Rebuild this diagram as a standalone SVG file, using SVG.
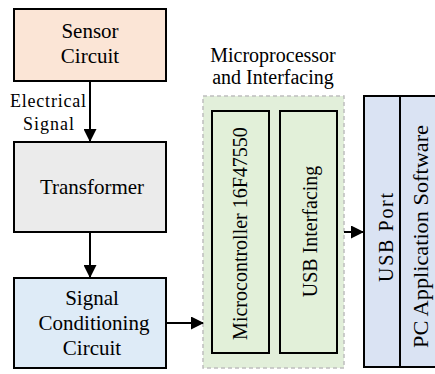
<svg xmlns="http://www.w3.org/2000/svg" width="435" height="374" viewBox="0 0 435 374" font-family="Liberation Serif, Tinos, DejaVu Serif, serif">
<style>
text{font-family:'Liberation Serif','Tinos','DejaVu Serif',serif;fill:#000;}
.lbl{font-size:21px;text-anchor:middle;}
.rot{font-size:20px;text-anchor:middle;}
.sm{font-size:18px;}
.box{stroke:#000;stroke-width:2;}
.conn{stroke:#000;stroke-width:2;fill:none;}
</style>
<defs>
<marker id="ah" markerWidth="13" markerHeight="13" refX="12" refY="6.5" orient="auto" markerUnits="userSpaceOnUse">
<path d="M0,0 L13,6.5 L0,13 Z" fill="#000"/>
</marker>
</defs>
<rect width="435" height="374" fill="#fff"/>
<g id="sensor">
<rect class="box" x="14" y="9" width="152" height="72" fill="#FBE5D6"/>
<text class="lbl" x="90" y="38">Sensor</text>
<text class="lbl" x="90" y="63">Circuit</text>
</g>
<g id="transformer">
<rect class="box" x="14" y="142" width="152" height="90" fill="#EBEBEB"/>
<text class="lbl" x="92" y="194">Transformer</text>
</g>
<g id="conditioning">
<rect class="box" x="14" y="278" width="152" height="90" fill="#DEEBF7"/>
<text class="lbl" x="92" y="305">Signal</text>
<text class="lbl" x="94" y="330">Conditioning</text>
<text class="lbl" x="92" y="355">Circuit</text>
</g>
<g id="micro-group">
<rect x="203" y="96" width="141" height="272" fill="#E2EFDA" stroke="#BFBFBF" stroke-width="1.5" stroke-dasharray="4,3"/>
<text class="rot" x="273" y="62">Microprocessor</text>
<text class="rot" x="273" y="84">and Interfacing</text>
</g>
<g id="microcontroller">
<rect class="box" x="212" y="111" width="57" height="242" fill="#E2F0D9"/>
<text class="rot" transform="translate(247,233.5) rotate(-90)">Microcontroller 16F47550</text>
</g>
<g id="usb-interfacing">
<rect class="box" x="280" y="111" width="57" height="242" fill="#E2F0D9"/>
<text class="rot" transform="translate(317,231.5) rotate(-90)">USB Interfacing</text>
</g>
<g id="usb-port">
<rect class="box" x="364" y="96" width="36" height="271" fill="#DAE3F3"/>
<text class="rot" transform="translate(393,237.5) rotate(-90)" textLength="89" lengthAdjust="spacing">USB Port</text>
</g>
<g id="pc-software">
<rect class="box" x="400" y="96" width="50" height="271" fill="#DAE3F3"/>
<text class="rot" transform="translate(428,236.5) rotate(-90)" textLength="223" lengthAdjust="spacingAndGlyphs">PC Application Software</text>
</g>
<g id="connectors">
<line class="conn" x1="90" y1="81" x2="90" y2="141" marker-end="url(#ah)"/>
<text class="sm" x="10" y="107" textLength="76" lengthAdjust="spacing">Electrical</text>
<text class="sm" x="23" y="130" textLength="51" lengthAdjust="spacing">Signal</text>
<line class="conn" x1="90" y1="232" x2="90" y2="277" marker-end="url(#ah)"/>
<line class="conn" x1="166" y1="323" x2="203" y2="323" marker-end="url(#ah)"/>
<line class="conn" x1="344" y1="232" x2="363" y2="232" marker-end="url(#ah)"/>
</g>
</svg>
